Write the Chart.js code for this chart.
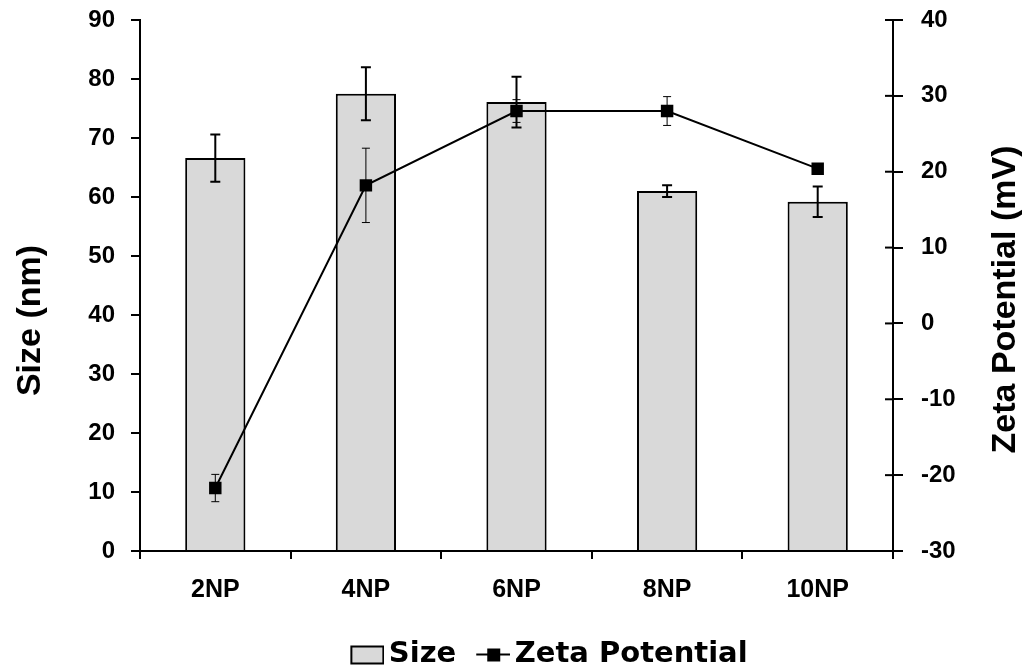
<!DOCTYPE html>
<html>
<head>
<meta charset="utf-8">
<script src="https://cdn.jsdelivr.net/npm/chart.js@4"></script>
<style>
  html, body { margin: 0; padding: 0; background: #fff; }
  #wrap { width: 1028px; height: 671px; }
</style>
</head>
<body>
<div id="wrap"><canvas id="myChart" width="1028" height="671"></canvas></div>
<script>
// data
const categories = ['2NP', '4NP', '6NP', '8NP', '10NP'];
const sizeValues = [66.6, 77.5, 76.1, 61.0, 59.2];
const sizeErrors = [4.0, 4.5, 4.3, 1.0, 2.6];
const zetaValues = [-21.7, 18.2, 28.0, 28.0, 20.4];
const zetaErrors = [1.8, 4.9, 1.5, 1.9, 0.3];
// axis ranges [min, max, step]
const sizeAxis = [0, 90, 10];
const zetaAxis = [-30, 40, 10];
const axisTitles = ['Size (nm)', 'Zeta Potential (mV)'];

const yTickFont = { family: 'Liberation Sans', size: 24, weight: 'bold' };
const xTickFont = { family: 'Liberation Sans', size: 25, weight: 'bold' };
const titleFont = 'bold 34px "Liberation Sans"';

// small legend images (transparent pad on the left pulls the text closer)
function legendBox() {
    var c = document.createElement('canvas');
    c.width = 54; c.height = 22;
    var g = c.getContext('2d');
    g.fillStyle = '#d9d9d9';
    g.fillRect(21, 3, 32, 17);
    g.strokeStyle = '#000';
    g.lineWidth = 2;
    g.strokeRect(21, 3, 32, 17);
    return c;
}
function legendLine() {
    var c = document.createElement('canvas');
    c.width = 54; c.height = 22;
    var g = c.getContext('2d');
    g.strokeStyle = '#000';
    g.lineWidth = 2;
    g.beginPath(); g.moveTo(20, 11); g.lineTo(54, 11); g.stroke();
    g.fillStyle = '#000';
    g.fillRect(31, 5, 13, 13);
    return c;
}

// keep tick labels from pushing the plot area down
function trimPadding(scale) {
    scale.paddingTop = 0;
    scale.paddingBottom = 0;
}

// error bars, inner ticks on the right axis, axis titles
const errorBars = {
    id: 'errorBars',
    afterLayout(chart) {
        // nudge legend to where it sits in the figure
        chart.legend.left += 30; chart.legend.right += 30;
        chart.legend.top += 8; chart.legend.bottom += 8;
    },
    afterDatasetDraw(chart, args) {
        const ctx = chart.ctx;
        const x = chart.scales.x;
        if (args.index === 0) {
            const y = chart.scales.y;
            ctx.save();
            ctx.strokeStyle = '#000';
            ctx.lineWidth = 2;
            sizeValues.forEach(function (v, i) {
                const px = x.getPixelForValue(i);
                const top = y.getPixelForValue(v + sizeErrors[i]);
                const bot = y.getPixelForValue(v - sizeErrors[i]);
                ctx.beginPath();
                ctx.moveTo(px, top); ctx.lineTo(px, bot);
                ctx.moveTo(px - 5, top); ctx.lineTo(px + 5, top);
                ctx.moveTo(px - 5, bot); ctx.lineTo(px + 5, bot);
                ctx.stroke();
            });
            ctx.restore();
        } else if (args.index === 1) {
            const y2 = chart.scales.y2;
            ctx.save();
            ctx.strokeStyle = '#000';
            ctx.lineWidth = 1;
            zetaValues.forEach(function (v, i) {
                const px = x.getPixelForValue(i);
                const top = y2.getPixelForValue(v + zetaErrors[i]);
                const bot = y2.getPixelForValue(v - zetaErrors[i]);
                ctx.beginPath();
                ctx.moveTo(px, top); ctx.lineTo(px, bot);
                ctx.moveTo(px - 4, top); ctx.lineTo(px + 4, top);
                ctx.moveTo(px - 4, bot); ctx.lineTo(px + 4, bot);
                ctx.stroke();
            });
            ctx.restore();
        }
    },
    afterDraw(chart) {
        const ctx = chart.ctx;
        const y2 = chart.scales.y2;
        const area = chart.chartArea;
        ctx.save();
        ctx.strokeStyle = '#000';
        ctx.lineWidth = 2;
        y2.ticks.forEach(function (t) {
            const py = y2.getPixelForValue(t.value);
            ctx.beginPath();
            ctx.moveTo(area.right - 8, py); ctx.lineTo(area.right, py);
            ctx.stroke();
        });
        // axis titles, both reading upwards
        const midY = (area.top + area.bottom) / 2;
        ctx.fillStyle = '#000';
        ctx.font = titleFont;
        ctx.textAlign = 'center';
        ctx.textBaseline = 'middle';
        ctx.translate(area.left - 109, midY + 35);
        ctx.rotate(-Math.PI / 2);
        ctx.fillText(axisTitles[0], 0, 0);
        ctx.setTransform(1, 0, 0, 1, 0, 0);
        ctx.translate(area.right + 113, midY + 14);
        ctx.rotate(-Math.PI / 2);
        ctx.fillText(axisTitles[1], 0, 0);
        ctx.restore();
    }
};

const ctx = document.getElementById('myChart').getContext('2d');
const myChart = new Chart(ctx, {
    type: 'bar',
    data: {
        labels: categories,
        datasets: [{
            type: 'bar',
            label: 'Size',
            data: sizeValues,
            yAxisID: 'y',
            backgroundColor: '#d9d9d9',
            borderColor: '#000',
            borderWidth: 2,
            categoryPercentage: 1.0,
            barPercentage: 0.40,
            order: 1
        }, {
            type: 'line',
            label: 'Zeta Potential',
            data: zetaValues,
            yAxisID: 'y2',
            borderColor: '#000',
            borderWidth: 2,
            backgroundColor: '#000',
            pointStyle: 'rect',
            pointRadius: 8.8,
            pointHoverRadius: 8.8,
            pointBorderWidth: 0,
            tension: 0,
            fill: false,
            order: 0
        }]
    },
    options: {
        responsive: false,
        animation: false,
        layout: { padding: { top: 20, left: 4, right: 4, bottom: 0 } },
        plugins: {
            tooltip: { enabled: false },
            legend: {
                position: 'bottom',
                labels: {
                    usePointStyle: true,
                    pointStyleWidth: 34,
                    padding: 10,
                    color: '#000',
                    font: { family: 'DejaVu Sans', size: 29, weight: 'bold' },
                    generateLabels: function (chart) {
                        return chart.data.datasets.map(function (ds, i) {
                            return {
                                text: ds.label,
                                datasetIndex: i,
                                pointStyle: i === 0 ? legendBox() : legendLine(),
                                fillStyle: '#000',
                                strokeStyle: '#000',
                                lineWidth: 0,
                                hidden: false,
                                fontColor: '#000'
                            };
                        });
                    }
                }
            }
        },
        scales: {
            x: {
                offset: true,
                grid: {
                    offset: true,
                    drawOnChartArea: false,
                    tickLength: 8,
                    color: '#000',
                    lineWidth: 2
                },
                border: { color: '#000', width: 2 },
                ticks: { color: '#000', font: xTickFont, padding: 16 },
                afterFit: function (scale) { scale.height = 71; }
            },
            y: {
                position: 'left',
                min: sizeAxis[0],
                max: sizeAxis[1],
                ticks: { stepSize: sizeAxis[2], color: '#000', font: yTickFont, padding: 16 },
                grid: { drawOnChartArea: false, tickLength: 9, color: '#000', lineWidth: 2 },
                border: { color: '#000', width: 2 },
                afterFit: function (scale) { scale.width = 136; trimPadding(scale); }
            },
            y2: {
                position: 'right',
                min: zetaAxis[0],
                max: zetaAxis[1],
                ticks: { stepSize: zetaAxis[2], color: '#000', font: yTickFont, padding: 18 },
                grid: { drawOnChartArea: false, tickLength: 10, color: '#000', lineWidth: 2 },
                border: { color: '#000', width: 2 },
                afterFit: function (scale) { scale.width = 131; trimPadding(scale); }
            }
        }
    },
    plugins: [errorBars]
});
</script>
</body>
</html>
